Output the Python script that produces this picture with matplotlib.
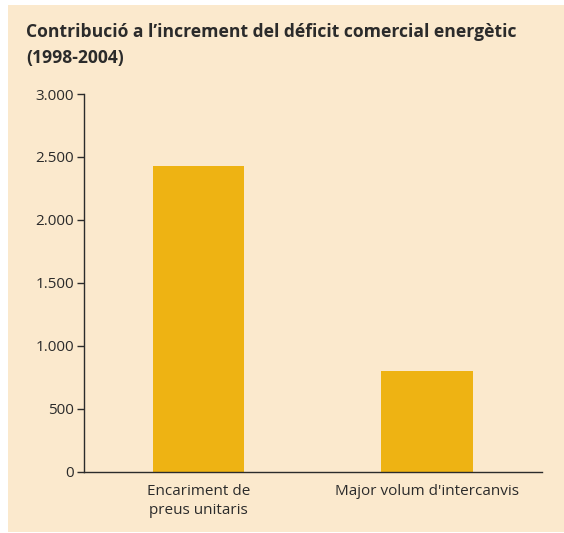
import matplotlib.pyplot as plt
from matplotlib.patches import Rectangle
from matplotlib.ticker import FuncFormatter

# dades
categories = ["Encariment de\npreus unitaris", "Major volum d'intercanvis"]
valors = [2425, 800]
yticks = [0, 500, 1000, 1500, 2000, 2500, 3000]

fons = "#fbe9cd"
groc = "#eeb313"
tinta = "#2b2b2b"

plt.rcParams['font.family'] = ['Open Sans', 'DejaVu Sans']

fig = plt.figure(figsize=(5.64, 5.33), dpi=100)
fig.patch.set_facecolor("white")

# panell de fons
fig.patches.append(Rectangle((7.5 / 564, 1 / 533), 1 - 7.5 / 564, 527 / 533,
                             transform=fig.transFigure, facecolor=fons,
                             edgecolor="none", zorder=-5))

ax = fig.add_axes([0.1486, 0.115, 0.812, 0.7086])
ax.set_facecolor("none")
ax.bar(range(len(valors)), valors, width=0.4, color=groc, zorder=2)

ax.set_xlim(-0.5, 1.5)
ax.set_ylim(0, 3000)
ax.set_yticks(yticks)
ax.yaxis.set_major_formatter(FuncFormatter(lambda v, p: f"{int(v):,}".replace(",", ".")))
ax.set_xticks(range(len(categories)))
ax.set_xticklabels(categories, fontsize=11, color=tinta, linespacing=1.3)

for s in ["top", "right"]:
    ax.spines[s].set_visible(False)
for s in ["left", "bottom"]:
    ax.spines[s].set_color(tinta)
    ax.spines[s].set_linewidth(1.0)

ax.tick_params(axis="y", direction="out", length=5, width=1, color=tinta,
               labelsize=11, labelcolor=tinta, pad=2)
ax.tick_params(axis="x", length=0, pad=9)

fig.text(26 / 564, 1 - 37 / 533, "Contribució a l’increment del déficit comercial energètic",
         fontsize=12.6, fontweight="bold", color=tinta, ha="left", va="baseline")
fig.text(26 / 564, 1 - 63 / 533, "(1998-2004)",
         fontsize=12.6, fontweight="bold", color=tinta, ha="left", va="baseline")

fig.savefig("out.png", dpi=100)
